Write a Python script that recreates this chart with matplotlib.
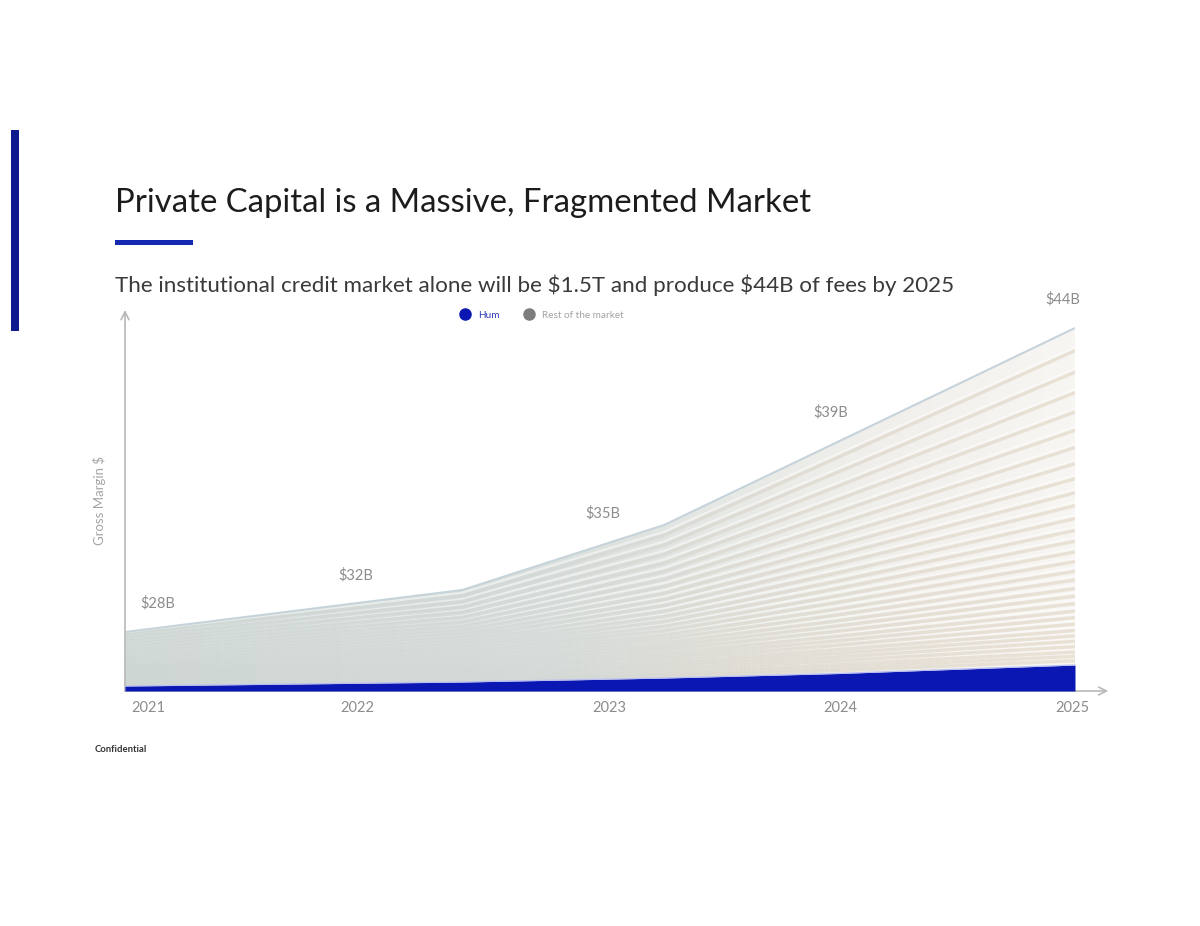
import numpy as np
import matplotlib
matplotlib.use("Agg")
import matplotlib.pyplot as plt
from matplotlib.collections import LineCollection
from matplotlib.colors import LinearSegmentedColormap
from matplotlib.lines import Line2D
from matplotlib.patches import Rectangle

# ---------------- data ----------------
x_points = [2021.0, 2022.42, 2023.27, 2024.0, 2025.0]
market_total = [5.9, 10.1, 16.6, 24.9, 36.3]      # envelope of whole market
hum_values = [0.5, 0.9, 1.3, 1.75, 2.6]           # Hum's share (bottom band)
fee_label_years = [2021.14, 2021.97, 2023.01, 2023.97, 2024.95]
fee_labels = ["$28B", "$32B", "$35B", "$39B", "$44B"]
tick_labels = ["2021", "2022", "2023", "2024", "2025"]
# relative sizes of the many players making up the rest of the market (bottom -> top)
fragment_shares = [4, 4, 4, 5, 5, 5, 5, 6, 6, 6, 7, 7, 7, 8, 8, 9, 9, 10, 10,
                   11, 12, 12, 13, 14, 15, 16, 17, 18, 19, 20, 21]

# ---------------- style ----------------
FONT = ["Lato", "DejaVu Sans"]
plt.rcParams["font.family"] = FONT
plt.rcParams["text.parse_math"] = False
HUM_BLUE = "#0a17b2"
NAVY = "#0d1a8f"
GREY_TXT = "#8c8c8c"

W, H = 1200, 926
fig = plt.figure(figsize=(W / 100, H / 100), dpi=100)
fig.patch.set_facecolor("white")

def fx(px):
    return px / W

def fy(py):
    return 1 - py / H

# axes: data area from px 125..1075 (x), 310..691 (y)
ax = fig.add_axes([fx(125), fy(691), (1075 - 125) / W, (691 - 310) / H])
ax.set_xlim(2021, 2025)
ax.set_ylim(0, 38.1)
for s in ax.spines.values():
    s.set_visible(False)
ax.set_facecolor("none")

xs = np.linspace(2021, 2025, 600)
tot_f = np.interp(xs, x_points, market_total)
hum_f = np.interp(xs, x_points, hum_values)

# Rest of market area with horizontal gradient
rest_poly = ax.fill_between(x_points, hum_values, market_total, color="none", lw=0)
grad_cmap = LinearSegmentedColormap.from_list(
    "g", [(0.0, "#d3dbd9"), (0.33, "#d6ddda"), (0.5, "#dde2df"),
          (0.7, "#ebece8"), (0.85, "#f3f1ed"), (1.0, "#f7f6f2")])
grad = np.tile(np.linspace(0, 1, 400), (2, 1))
im = ax.imshow(grad, cmap=grad_cmap, aspect="auto", extent=[2021, 2025, 0, 38.1],
               origin="lower", zorder=1, interpolation="bilinear")
im.set_clip_path(rest_poly.get_paths()[0], transform=ax.transData)

# fragment stripes
shares = np.array(fragment_shares, dtype=float)
cum = np.cumsum(shares) / shares.sum()
stripe_cmap = LinearSegmentedColormap.from_list(
    "s", [(0.0, "#ced6d4"), (0.45, "#d3d9d6"), (0.65, "#ddd9d0"),
          (1.0, "#e6dccd")])
xmid = 0.5 * (xs[:-1] + xs[1:])
seg_cols = stripe_cmap((xmid - 2021) / 4)
for c in cum[:-1]:
    yb = hum_f + c * (tot_f - hum_f)
    pts = np.column_stack([xs, yb]).reshape(-1, 1, 2)
    segs = np.concatenate([pts[:-1], pts[1:]], axis=1)
    ax.add_collection(LineCollection(segs, colors=seg_cols, linewidths=2.4,
                                     alpha=0.85, zorder=2))
    # white highlight just above each boundary
    yh = yb + 0.35
    pts2 = np.column_stack([xs, yh]).reshape(-1, 1, 2)
    segs2 = np.concatenate([pts2[:-1], pts2[1:]], axis=1)
    ax.add_collection(LineCollection(segs2, colors="white", linewidths=1.6,
                                     alpha=0.5, zorder=2))

# top edge
ax.plot(x_points, market_total, color="#c6d3da", lw=1.5, zorder=3, solid_capstyle="butt")

# Hum area
ax.fill_between(x_points, 0, hum_values, color=HUM_BLUE, lw=0, zorder=4)
ax.plot(x_points, hum_values, color="#b9bef0", lw=0.9, zorder=4)

# axes arrows
arrow_kw = dict(arrowstyle="->", color="#b8b8b8", lw=1.2, shrinkA=0, shrinkB=0,
                mutation_scale=14)
ax.annotate("", xy=(0, 1.0), xytext=(0, 0), xycoords="axes fraction",
            arrowprops=arrow_kw, annotation_clip=False)
ax.annotate("", xy=(1.035, 0), xytext=(0, 0), xycoords="axes fraction",
            arrowprops=arrow_kw, annotation_clip=False)

# ticks
tick_pos = [2021.1, 2021.98, 2023.04, 2024.01, 2024.99]
ax.set_xticks(tick_pos)
ax.set_xticklabels(tick_labels, color=GREY_TXT, fontsize=10.5)
ax.tick_params(axis="x", length=0, pad=7)
ax.set_yticks([])

# fee labels above the envelope
label_offsets = [18, 20, 23, 24, 25]
for xv, txt, off in zip(fee_label_years, fee_labels, label_offsets):
    yv = np.interp(xv, x_points, market_total)
    ax.annotate(txt, xy=(xv, yv), xytext=(0, off), textcoords="offset points",
                ha="center", va="center", color=GREY_TXT, fontsize=10.5,
                annotation_clip=False)

ax.set_ylabel("Gross Margin $", color="#a5a5a5", fontsize=9.5, labelpad=14)

# legend
handles = [Line2D([], [], marker="o", ls="", markersize=8, markerfacecolor=HUM_BLUE,
                  markeredgecolor=HUM_BLUE, label="Hum"),
           Line2D([], [], marker="o", ls="", markersize=8, markerfacecolor="#7d7d7d",
                  markeredgecolor="#7d7d7d", label="Rest of the market")]
leg = fig.legend(handles=handles, loc="center", bbox_to_anchor=(fx(542), fy(315)),
                 ncol=2, frameon=False, fontsize=7.2, handletextpad=0.8,
                 columnspacing=2.5, handlelength=1.0)
leg.get_texts()[0].set_color("#2b3ab8")
leg.get_texts()[1].set_color("#a3a3a3")

# slide decorations
fig.add_artist(Rectangle((fx(11), fy(331)), fx(8), (331 - 130) / H,
                         transform=fig.transFigure, color=NAVY, lw=0))
fig.add_artist(Rectangle((fx(115), fy(245)), fx(78), 5 / H,
                         transform=fig.transFigure, color="#1428b0", lw=0))
fig.text(fx(115), fy(203), "Private Capital is a Massive, Fragmented Market",
         fontsize=23.7, color="#1c1c1c", ha="left", va="center")
fig.text(fx(115), fy(285),
         "The institutional credit market alone will be $1.5T and produce $44B of fees by 2025",
         fontsize=16.1, color="#3a3a3a", ha="left", va="center")
fig.text(fx(95), fy(749), "Confidential", fontsize=6.8, color="#333333",
         ha="left", va="center", fontweight="bold")

fig.savefig("out.png", dpi=100, facecolor="white")
